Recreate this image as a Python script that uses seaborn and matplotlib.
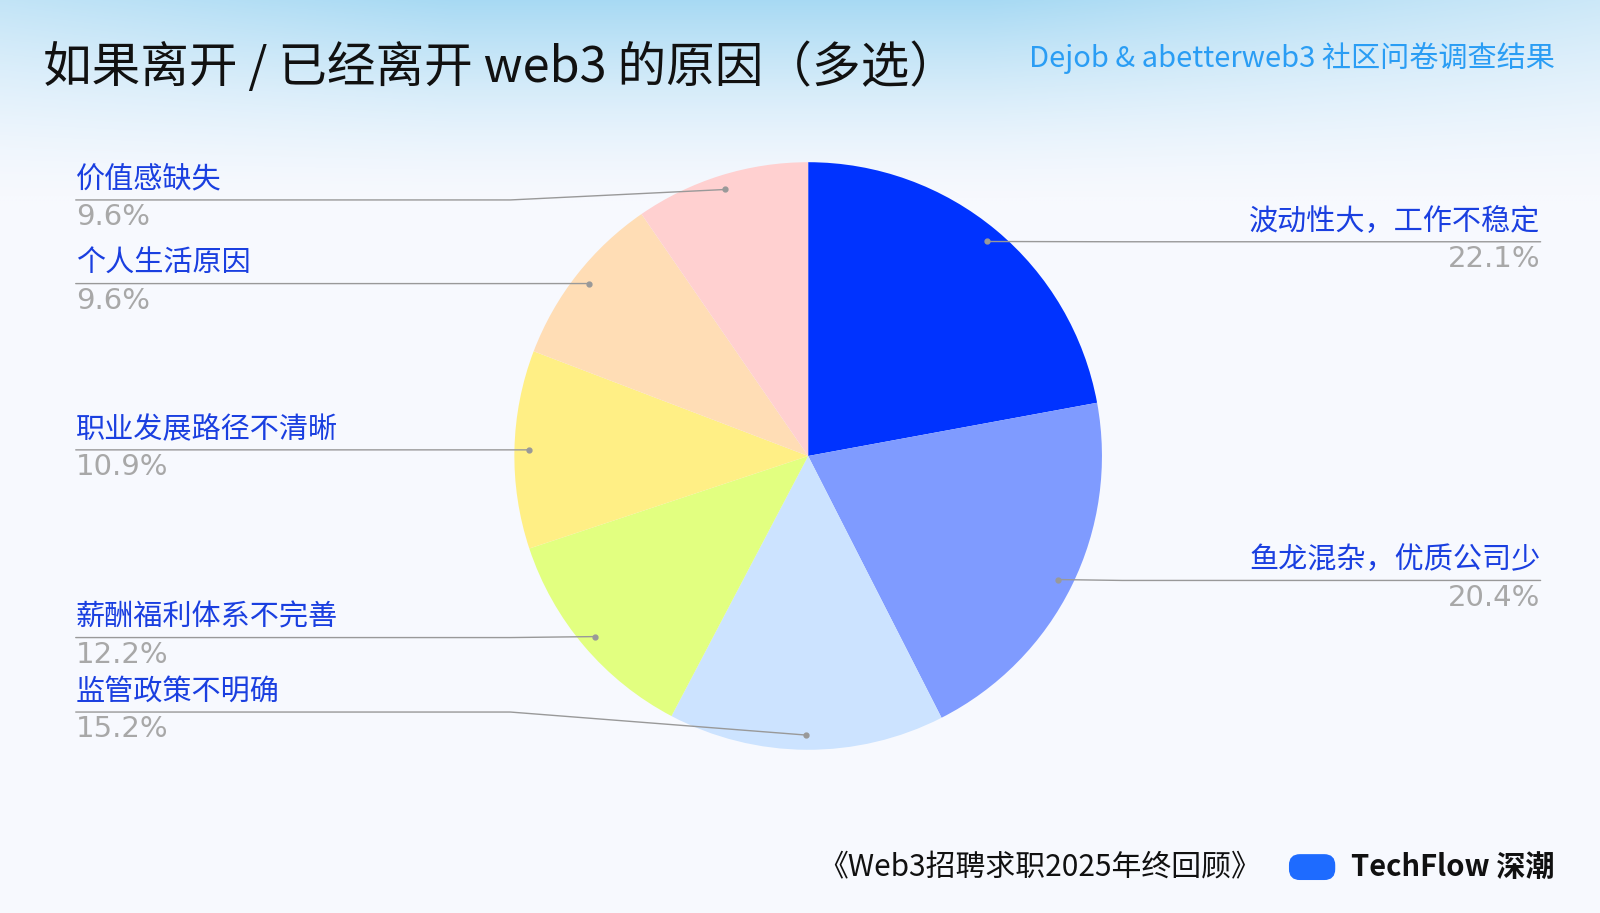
import numpy as np
import matplotlib
matplotlib.use("Agg")
import matplotlib.pyplot as plt
import seaborn as sns
from matplotlib.colors import LinearSegmentedColormap

categories = ["波动性大，工作不稳定", "鱼龙混杂，优质公司少", "监管政策不明确",
              "薪酬福利体系不完善", "职业发展路径不清晰", "个人生活原因", "价值感缺失"]
values = [22.1, 20.4, 15.2, 12.2, 10.9, 9.6, 9.6]
colors = ["#0033FF", "#7F9BFF", "#CCE3FF", "#E2FF80", "#FFEF85", "#FFDDB5", "#FFD0D0"]
label_y = [237, 569, 698, 625, 441, 278, 196]
label_side = ["R", "R", "L", "L", "L", "L", "L"]

sns.set_theme(style="white")
plt.rcParams['font.family'] = ['Noto Sans CJK SC', 'DejaVu Sans']

W, H = 1568, 895
fig = plt.figure(figsize=(16, 9.13), dpi=100)
fig.patch.set_facecolor("#F7F9FE")
ax = fig.add_axes([0, 0, 1, 1])
ax.set_xlim(0, W); ax.set_ylim(0, H)
ax.axis("off")

grad = np.linspace(1, 0, 200).reshape(-1, 1) ** 1.5
xs = np.linspace(-1, 1, 400)
g = grad * np.clip(1.2 - 0.6 * np.abs(xs + 0.1), 0, 1)[None, :]
cm = LinearSegmentedColormap.from_list("g", ["#F7F9FE", "#8FD0F0"])
ax.imshow(g, extent=[0, W, H - 200, H], cmap=cm, vmin=0, vmax=1.3, aspect="auto", zorder=0)

cx, cy, R = 792, H - 447, 288
wedges, _ = ax.pie(values, colors=colors, startangle=90, counterclock=False,
                   center=(cx, cy), radius=R, frame=True,
                   wedgeprops=dict(linewidth=0))
ax.set_xlim(0, W); ax.set_ylim(0, H); ax.set_aspect("equal"); ax.axis("off")

for w, cat, v, ly, side in zip(wedges, categories, values, label_y, label_side):
    ang = np.deg2rad((w.theta1 + w.theta2) / 2)
    px, py = cx + 0.95 * R * np.cos(ang), cy + 0.95 * R * np.sin(ang)
    y = H - ly
    if side == "R":
        ax.plot([px, 1100, 1510], [py, y, y], color="#999999", lw=1, zorder=3)
        ax.text(1510, y + 5, cat, ha="right", va="bottom", fontsize=21, color="#1A3FE0")
        ax.text(1510, y - 3, f"{v}%", ha="right", va="top", fontsize=21, color="#A8A8A8",
                family=["DejaVu Sans"])
    else:
        ax.plot([74, 500, px], [y, y, py], color="#999999", lw=1, zorder=3)
        ax.text(74, y + 5, cat, ha="left", va="bottom", fontsize=21, color="#1A3FE0")
        ax.text(74, y - 3, f"{v}%", ha="left", va="top", fontsize=21, color="#A8A8A8",
                family=["DejaVu Sans"])
    ax.plot(px, py, "o", ms=3.5, color="#999999", zorder=4)

ax.text(42, H - 66, "如果离开 / 已经离开 web3 的原因（多选）", fontsize=35, color="#111111", va="center",
        family=["Noto Sans CJK SC"])
ax.text(1524, H - 57, "Dejob & abetterweb3 社区问卷调查结果", fontsize=21, color="#2A9DF4",
        ha="right", va="center")
ax.text(1236, H - 850, "《Web3招聘求职2025年终回顾》", fontsize=21.5, color="#111111", ha="right", va="center")
ax.add_patch(matplotlib.patches.FancyBboxPatch((1266, H - 860), 40, 20, boxstyle="round,pad=2,rounding_size=10",
                                               color="#1E6BFF", zorder=3))
ax.text(1524, H - 850, "TechFlow 深潮", fontsize=21, color="#111111", ha="right", va="center", fontweight="bold")

fig.savefig("out.png", dpi=100, facecolor=fig.get_facecolor())
